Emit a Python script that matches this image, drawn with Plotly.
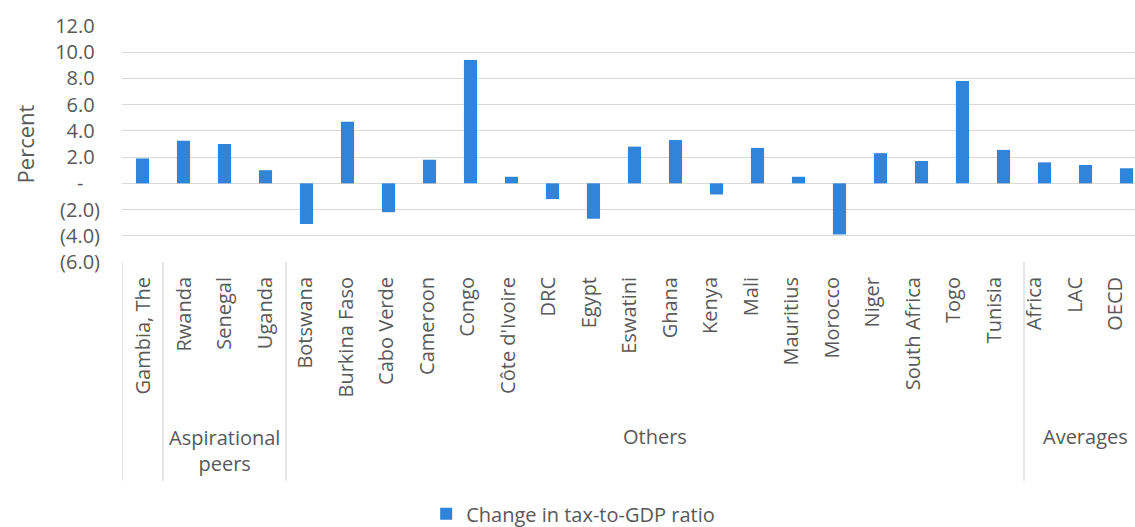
import plotly.graph_objects as go

countries = ["Gambia, The", "Rwanda", "Senegal", "Uganda", "Botswana", "Burkina Faso",
             "Cabo Verde", "Cameroon", "Congo", "Côte d'Ivoire", "DRC", "Egypt",
             "Eswatini", "Ghana", "Kenya", "Mali", "Mauritius", "Morocco", "Niger",
             "South Africa", "Togo", "Tunisia", "Africa", "LAC", "OECD"]
change = [1.9, 3.25, 3.0, 1.0, -3.1, 4.7, -2.2, 1.8, 9.4, 0.5, -1.2, -2.7,
          2.8, 3.3, -0.85, 2.7, 0.5, -3.9, 2.3, 1.7, 7.8, 2.55, 1.6, 1.4, 1.15]
groups = [("", 0, 0), ("Aspirational<br>peers", 1, 3), ("Others", 4, 21), ("Averages", 22, 24)]
ytick_vals = [12, 10, 8, 6, 4, 2, 0, -2, -4, -6]
ytick_text = ["12.0", "10.0", "8.0", "6.0", "4.0", "2.0", "-", "(2.0)", "(4.0)", "(6.0)"]
series_name = "Change in tax-to-GDP ratio"

FONT = "Open Sans"
GREY = "#595959"
GRID = "#d9d9d9"

pad = "\u2008"
ticktext = []
for t in ytick_text:
    if t == "-":
        ticktext.append("-\u2007" + pad)
    elif t.startswith("("):
        ticktext.append(t)
    else:
        ticktext.append(t + pad)

idx = list(range(len(countries)))

fig = go.Figure()
fig.add_trace(go.Bar(
    x=idx, y=change, name=series_name,
    marker=dict(color="#3084DA", line=dict(width=0)), width=0.32,
    showlegend=True,
))
# invisible helper trace so the label axis is drawn
fig.add_trace(go.Scatter(x=idx, y=[None] * len(idx), xaxis="x2", yaxis="y",
                         mode="markers", showlegend=False, hoverinfo="skip"))

shapes = []
bounds = [-0.5] + [g[2] + 0.5 for g in groups]
for b in bounds:
    shapes.append(dict(type="line", xref="x", yref="paper", x0=b, x1=b, y0=0, y1=-0.927,
                       line=dict(color=GRID, width=1.3), layer="above"))

annotations = []
for label, a, b in groups:
    if not label:
        continue
    yy = -0.80 if "<br>" in label else -0.74
    annotations.append(dict(x=(a + b) / 2, y=yy, xref="x", yref="paper", text=label,
                            showarrow=False, xanchor="center", yanchor="middle",
                            font=dict(family=FONT, size=20, color=GREY)))

plot_w = 1013
bar_step = 41.0
label_step = 40.5
label_x0 = 21.5  # px from plot left to first label centre

fig.update_layout(
    width=1135, height=527,
    margin=dict(l=122, r=0, t=26, b=265, autoexpand=False),
    plot_bgcolor="white", paper_bgcolor="white",
    font=dict(family=FONT, size=20, color=GREY),
    shapes=shapes, annotations=annotations,
    legend=dict(orientation="h", xref="container", yref="container",
                x=0.505, y=0.025, xanchor="center", yanchor="middle",
                font=dict(family=FONT, size=20, color=GREY)),
    bargap=0.68,
)
fig.update_layout(
    xaxis=dict(
        type="linear", range=[-0.5, -0.5 + plot_w / bar_step], automargin=False,
        showticklabels=False, ticks="",
        showgrid=False, zeroline=False, showline=False,
    ),
    xaxis2=dict(
        type="linear", overlaying="x", anchor="y", side="bottom",
        range=[-label_x0 / label_step, -label_x0 / label_step + plot_w / label_step],
        automargin=False,
        tickmode="array", tickvals=idx, ticktext=countries,
        tickangle=-90, ticks="outside", ticklen=6, tickcolor="rgba(0,0,0,0)",
        ticklabeloverflow="allow",
        showgrid=False, zeroline=False, showline=False,
        tickfont=dict(family=FONT, size=20, color=GREY),
    ),
    yaxis=dict(
        range=[-6, 12], tickmode="array", tickvals=ytick_vals, ticktext=ticktext,
        automargin=False,
        showgrid=True, gridcolor=GRID, gridwidth=1.3, zeroline=False,
        ticks="outside", ticklen=17, tickcolor="rgba(0,0,0,0)",
        tickfont=dict(family=FONT, size=20, color=GREY),
        title=dict(text="Percent", font=dict(family=FONT, size=22, color=GREY), standoff=14),
    ),
)

fig.write_html("out.html")
